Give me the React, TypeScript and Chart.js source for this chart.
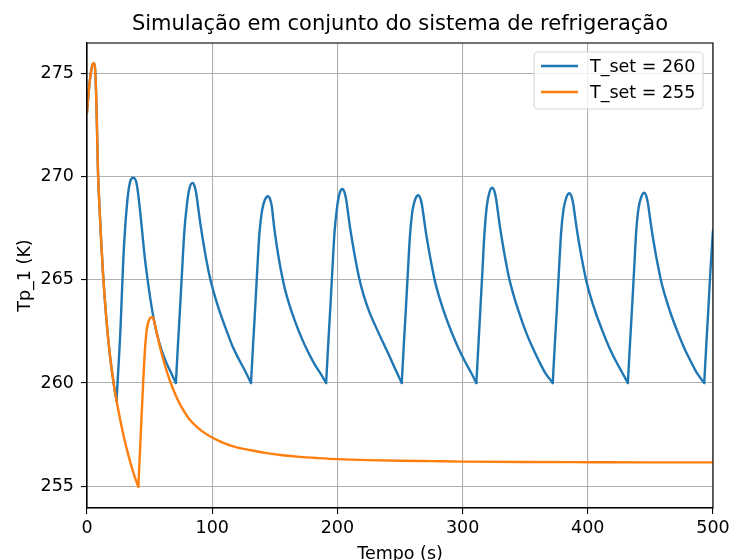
import { useEffect, useRef } from "react";
import { Chart, registerables } from "chart.js";

Chart.register(...registerables);

const FONT = "DejaVu Sans";

const chartTitle = "Simulação em conjunto do sistema de refrigeração";
const xAxisLabel = "Tempo (s)";
const yAxisLabel = "Tp_1 (K)";

const seriesLabels = ["T_set = 260", "T_set = 255"];
const seriesColors = ["#1f77b4", "#ff7f0e"];

const xTickValues = [0, 100, 200, 300, 400, 500];
const yTickValues = [255, 260, 265, 270, 275];
const xRange = [0, 500];
const yRange = [253.94, 276.48];

// (tempo em s, temperatura em K) com T_set = 260
const tempSet260: [number, number][] = [
  [0, 273.1], [1.5, 274.2], [3, 275.0], [4.5, 275.45], [5.6, 275.5], [6.5, 275.2],
  [7.3, 274.0], [8, 272.3], [8.8, 270.2], [10, 268.5], [11.3, 266.9], [12.8, 265.3],
  [14.4, 263.9], [16.3, 262.55], [18.3, 261.35], [20.3, 260.4], [22.4, 259.55], [23.6, 259.15],
  [26.8, 262.7], [29, 266.0], [31.7, 268.5], [34.4, 269.75], [37, 269.95], [39.7, 269.65],
  [42.3, 268.4], [46.3, 266.0], [50.3, 264.2], [53, 263.2], [55.6, 262.45], [59.5, 261.6],
  [63.6, 260.95], [67.5, 260.45], [71, 260.0],
  [72.6, 261.8], [74.3, 263.6], [76, 265.5], [77.7, 267.3], [79.7, 268.6], [81.9, 269.45],
  [84.3, 269.7], [85.8, 269.57], [87.3, 269.18], [88.8, 268.5], [90.3, 267.82], [92.3, 267.04],
  [94.8, 266.15], [97.8, 265.21], [101.3, 264.38], [105.8, 263.49], [111, 262.61], [116.3, 261.77],
  [121.3, 261.15], [126.3, 260.58], [131, 260.0],
  [132.6, 261.8], [134.3, 263.6], [136, 265.5], [137.7, 267.25], [139.8, 268.35], [142.1, 268.88],
  [144.6, 269.05], [146.1, 268.93], [147.6, 268.56], [149.1, 267.75], [150.6, 267.05], [152.6, 266.25],
  [155.1, 265.4], [158.1, 264.55], [161.6, 263.8], [166.1, 263.0], [171.3, 262.2], [176.6, 261.5],
  [181.6, 260.93], [186.6, 260.45], [191, 260.0],
  [192.6, 261.8], [194.3, 263.6], [196, 265.5], [197.7, 267.3], [199.7, 268.5], [201.8, 269.2],
  [204, 269.4], [205.5, 269.28], [207, 268.9], [208.5, 268.24], [210, 267.58], [212, 266.82],
  [214.5, 265.96], [217.5, 265.05], [221, 264.25], [225.5, 263.45], [230.7, 262.72], [236, 262.02],
  [241, 261.38], [246, 260.7], [251.4, 260.0],
  [253, 261.8], [254.7, 263.6], [256.4, 265.5], [258.1, 267.25], [260.1, 268.4], [262.3, 268.93],
  [264.6, 269.1], [266.1, 268.98], [267.6, 268.61], [269.1, 267.98], [270.6, 267.34], [272.6, 266.61],
  [275.1, 265.77], [278.1, 264.89], [281.6, 264.11], [286.1, 263.28], [291.3, 262.45], [296.6, 261.7],
  [301.6, 261.08], [306.6, 260.52], [311, 260.0],
  [312.6, 261.8], [314.2, 263.6], [315.9, 265.5], [317.5, 267.3], [319.4, 268.6], [321.5, 269.25],
  [323.7, 269.46], [325.2, 269.34], [326.7, 268.95], [328.2, 268.29], [329.7, 267.63], [331.7, 266.86],
  [334.2, 265.99], [337.2, 265.07], [340.7, 264.26], [345.2, 263.4], [350.4, 262.5], [355.7, 261.74],
  [360.7, 261.1], [365.7, 260.52], [372, 260.0],
  [373.6, 261.8], [375.3, 263.6], [377, 265.5], [378.7, 267.3], [380.7, 268.45], [382.9, 269.0],
  [385.3, 269.2], [386.8, 269.08], [388.3, 268.71], [389.8, 268.06], [391.3, 267.42], [393.3, 266.68],
  [395.8, 265.84], [398.8, 264.95], [402.3, 264.16], [406.8, 263.32], [412, 262.48], [417.3, 261.7],
  [422.3, 261.08], [427.3, 260.52], [432, 260.0],
  [433.6, 261.8], [435.3, 263.6], [437, 265.5], [438.6, 267.3], [440.6, 268.5], [442.8, 269.03],
  [445, 269.22], [446.5, 269.1], [448, 268.72], [449.5, 268.08], [451, 267.44], [453, 266.69],
  [455.5, 265.85], [458.5, 264.96], [462, 264.17], [466.5, 263.32], [471.7, 262.48], [477, 261.7],
  [482, 261.08], [487, 260.5], [493, 260.0],
  [494.6, 261.8], [496.3, 263.6], [498, 265.5], [500, 267.4],
];

// instantes em que a curva muda de sentido bruscamente (mínimos em bico)
const cornersSet260 = [23.6, 71, 131, 191, 251.4, 311, 372, 432, 493];

// (tempo em s, temperatura em K) com T_set = 255
const tempSet255: [number, number][] = [
  [0, 273.1], [1.5, 274.2], [3, 275.0], [4.5, 275.45], [5.6, 275.5], [6.5, 275.2],
  [7.3, 274.0], [8, 272.3], [8.8, 270.2], [10, 268.5], [11.3, 266.9], [12.8, 265.3],
  [14.4, 263.9], [16.3, 262.55], [18.3, 261.35], [20.3, 260.4], [22.4, 259.55], [23.6, 259.15],
  [24.5, 258.85], [26.4, 258.25], [29, 257.5], [31.7, 256.82], [34.4, 256.2], [37, 255.66],
  [39, 255.3], [41, 254.97], [43, 257.6], [45, 260.2], [46.5, 261.8], [48, 262.7],
  [50, 263.1], [52.2, 263.2], [54.2, 262.85], [56.5, 262.2], [59.5, 261.45], [63.5, 260.6],
  [67.5, 259.9], [71.6, 259.3], [76, 258.78], [82.3, 258.2], [90.5, 257.73], [98.2, 257.42],
  [107, 257.15], [116.8, 256.93], [130, 256.75], [143.5, 256.6], [156, 256.5], [170, 256.42],
  [185, 256.36], [200, 256.31], [225, 256.26], [250, 256.23], [275, 256.21], [300, 256.19],
  [350, 256.17], [400, 256.16], [450, 256.15], [500, 256.15],
];

const cornersSet255 = [41];

const seriesData = [tempSet260, tempSet255];
const seriesCorners = [cornersSet260, cornersSet255];

// Divide a curva nos bicos, para que a suavização não arredonde os mínimos.
function splitAtCorners(points: [number, number][], corners: number[]) {
  const pieces: [number, number][][] = [];
  let current: [number, number][] = [];
  points.forEach((p) => {
    current.push(p);
    if (corners.includes(p[0])) {
      pieces.push(current);
      current = [p];
    }
  });
  if (current.length > 1) pieces.push(current);
  return pieces;
}

const decorations = {
  id: "decorations",
  afterDatasetsDraw(chart: any) {
    const { ctx, chartArea: a } = chart;
    ctx.save();
    // moldura dos eixos
    ctx.strokeStyle = "#000";
    ctx.lineWidth = 1.1;
    ctx.strokeRect(a.left, a.top, a.right - a.left, a.bottom - a.top);

    // legenda
    const boxL = a.right - 179;
    const boxR = a.right - 10;
    const boxT = a.top + 9;
    const boxB = a.top + 66;
    ctx.beginPath();
    ctx.roundRect(boxL, boxT, boxR - boxL, boxB - boxT, 4);
    ctx.fillStyle = "rgba(255,255,255,0.8)";
    ctx.fill();
    ctx.strokeStyle = "#d6d6d6";
    ctx.lineWidth = 1.1;
    ctx.stroke();
    ctx.font = `17.5px "${FONT}"`;
    ctx.textBaseline = "middle";
    ctx.textAlign = "left";
    seriesLabels.forEach((label, i) => {
      const y = boxT + 14 + i * 26;
      ctx.strokeStyle = seriesColors[i];
      ctx.lineWidth = 2.4;
      ctx.beginPath();
      ctx.moveTo(boxL + 7, y);
      ctx.lineTo(boxL + 44, y);
      ctx.stroke();
      ctx.fillStyle = "#000";
      ctx.fillText(label, boxL + 56, y + 1);
    });
    ctx.restore();
  },
  afterDraw(chart: any) {
    const { ctx, chartArea: a } = chart;
    ctx.save();
    ctx.fillStyle = "#000";
    ctx.textAlign = "center";
    ctx.textBaseline = "alphabetic";
    ctx.font = `21px "${FONT}"`;
    ctx.fillText(chartTitle, (a.left + a.right) / 2, 29.5);
    ctx.font = `17.5px "${FONT}"`;
    ctx.fillText(xAxisLabel, (a.left + a.right) / 2, 559);
    ctx.translate(30, (a.top + a.bottom) / 2);
    ctx.rotate(-Math.PI / 2);
    ctx.fillText(yAxisLabel, 0, 0);
    ctx.restore();
  },
};

export default function App() {
  const canvasRef = useRef<HTMLCanvasElement | null>(null);

  useEffect(() => {
    const canvas = canvasRef.current;
    if (!canvas) return;
    const datasets: any[] = [];
    seriesData.forEach((points, i) => {
      splitAtCorners(points, seriesCorners[i]).forEach((piece) => {
        datasets.push({
          label: seriesLabels[i],
          data: piece.map(([x, y]) => ({ x, y })),
          borderColor: seriesColors[i],
          backgroundColor: seriesColors[i],
          borderWidth: 2.4,
          pointRadius: 0,
          cubicInterpolationMode: "monotone",
          fill: false,
          borderJoinStyle: "round",
          borderCapStyle: "round",
          order: i === 0 ? 1 : 0,
        });
      });
    });

    const gridStyle = {
      color: "#b0b0b0",
      lineWidth: 1.1,
      drawTicks: true,
      tickLength: 6,
      tickColor: "#000",
      tickWidth: 1.1,
    };

    const chart = new Chart(canvas, {
      type: "line",
      data: { datasets },
      options: {
        animation: false,
        responsive: true,
        maintainAspectRatio: false,
        devicePixelRatio: 1,
        layout: { padding: { top: 43, right: 16, left: 0, bottom: 0 } },
        plugins: {
          legend: { display: false },
          title: { display: false },
          tooltip: { enabled: false },
        },
        scales: {
          x: {
            type: "linear",
            min: xRange[0],
            max: xRange[1],
            afterBuildTicks: (scale: any) => {
              scale.ticks = xTickValues.map((v) => ({ value: v }));
            },
            afterFit: (scale: any) => {
              scale.height = 52;
              scale.paddingLeft = 0;
              scale.paddingRight = 0;
            },
            ticks: {
              font: { family: FONT, size: 17.5 },
              color: "#000",
              padding: 4,
              maxRotation: 0,
              autoSkip: false,
            },
            grid: gridStyle,
            border: { display: true, color: "#000", width: 1.1 },
          },
          y: {
            type: "linear",
            min: yRange[0],
            max: yRange[1],
            afterBuildTicks: (scale: any) => {
              scale.ticks = yTickValues.map((v) => ({ value: v }));
            },
            afterFit: (scale: any) => {
              scale.width = 87;
              scale.paddingTop = 0;
              scale.paddingBottom = 0;
            },
            ticks: {
              font: { family: FONT, size: 17.5 },
              color: "#000",
              padding: 7,
              autoSkip: false,
            },
            grid: gridStyle,
            border: { display: true, color: "#000", width: 1.1 },
          },
        },
      },
      plugins: [decorations],
    });
    return () => chart.destroy();
  }, []);

  return (
    <div style={{ position: "fixed", left: 0, top: 0, width: 729, height: 560, background: "#fff" }}>
      <canvas ref={canvasRef} />
    </div>
  );
}
